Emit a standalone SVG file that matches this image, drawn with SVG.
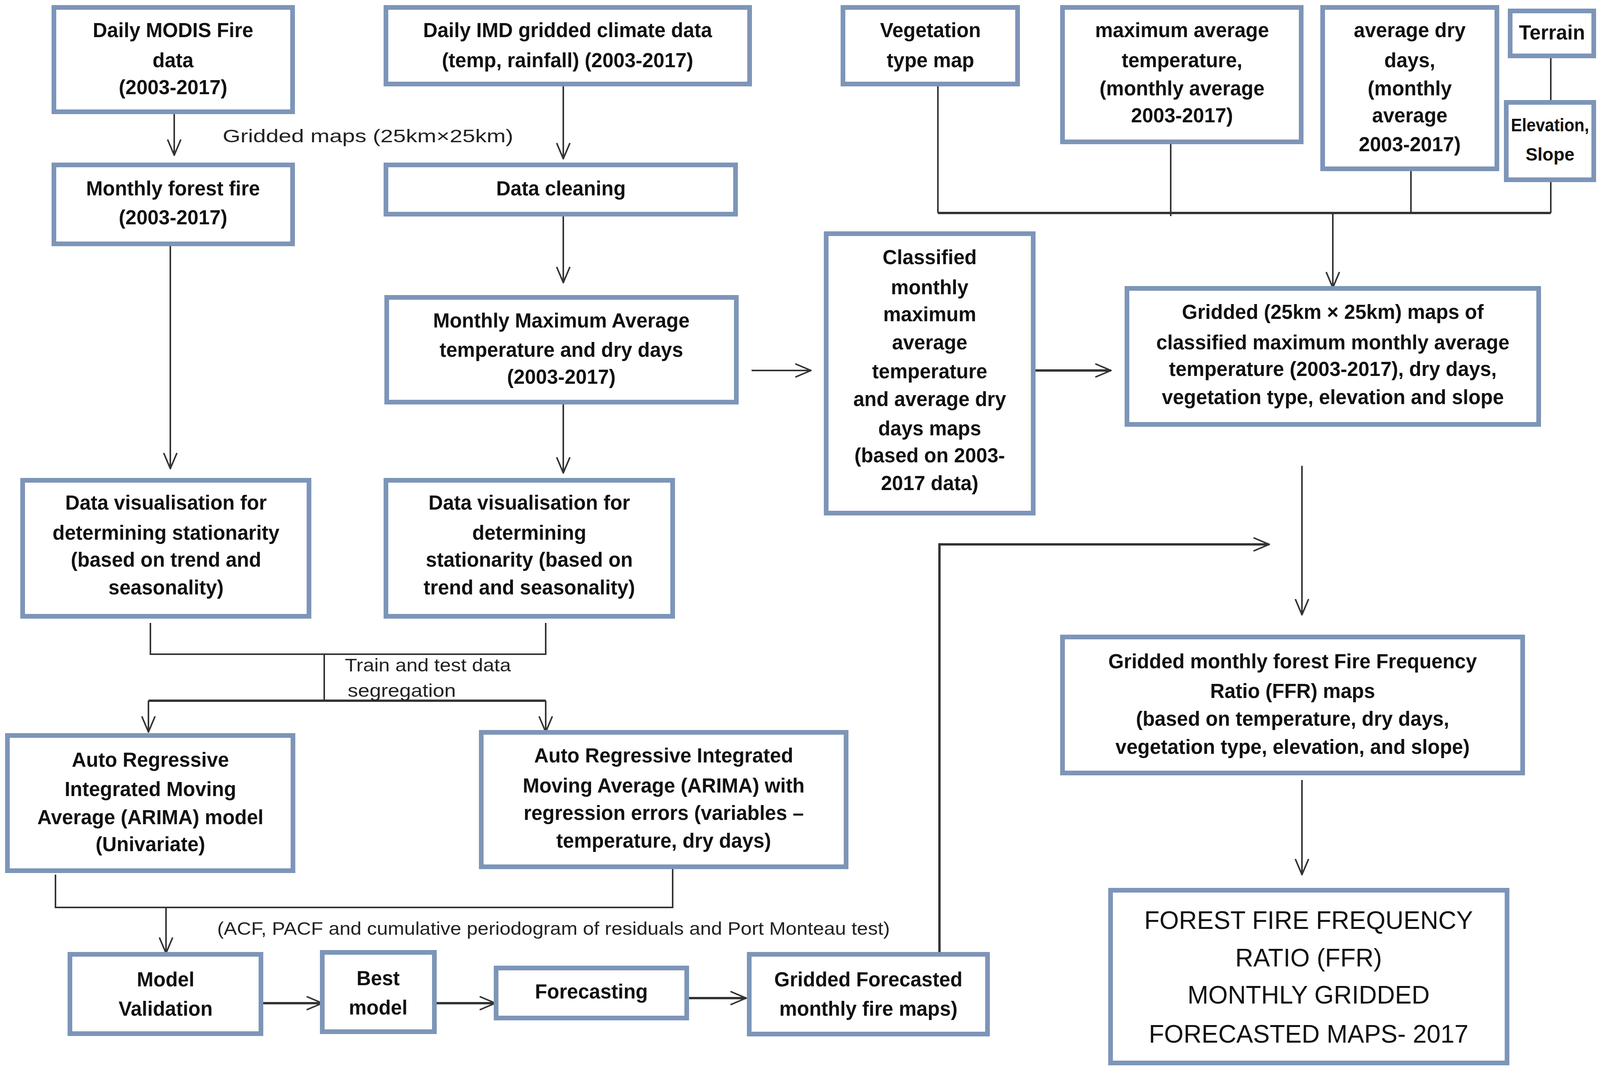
<svg xmlns="http://www.w3.org/2000/svg" width="4317" height="2738" viewBox="0 0 4317 2738">
<style>
.box{fill:#ffffff;stroke:#7d95b8;stroke-width:12}
.t{font-family:"Liberation Sans",Arial,sans-serif;font-weight:bold;font-size:51px;fill:#111;text-anchor:middle}
.ts{font-family:"Liberation Sans",Arial,sans-serif;font-weight:bold;font-size:46px;fill:#111;text-anchor:middle}
.big{font-family:"Liberation Sans",Arial,sans-serif;font-size:64px;fill:#111;text-anchor:middle}
.lbl{font-family:"Liberation Sans",Arial,sans-serif;font-size:46px;fill:#222}
.c{fill:none;stroke:#333;stroke-width:4}
.cb{fill:none;stroke:#333;stroke-width:6}
</style>
<defs>
<marker id="ah" viewBox="0 0 44 40" markerWidth="44" markerHeight="40" refX="42" refY="20" orient="auto" markerUnits="userSpaceOnUse">
<path d="M2,3 L42,20 L2,37" fill="none" stroke="#333" stroke-width="4"/>
</marker>
</defs>
<rect width="4317" height="2738" fill="#ffffff"/>

<g id="connectors">
<path class="c" d="M446,290 V397" marker-end="url(#ah)"/>
<path class="c" d="M1442,215 V406" marker-end="url(#ah)"/>
<path class="c" d="M1442,550 V723" marker-end="url(#ah)"/>
<path class="c" d="M436,626 V1199" marker-end="url(#ah)"/>
<path class="c" d="M1442,1030 V1210" marker-end="url(#ah)"/>
<path class="c" d="M1924,948 H2076" marker-end="url(#ah)"/>
<path class="cb" d="M2647,948 H2844" marker-end="url(#ah)"/>
<path class="c" d="M3970,143 V262"/>
<path class="c" d="M2401,215 V545"/>
<path class="c" d="M2997,363 V553"/>
<path class="c" d="M3612,432 V545"/>
<path class="c" d="M3970,460 V545"/>
<path class="cb" d="M2401,545 H3970"/>
<path class="c" d="M3412,545 V736" marker-end="url(#ah)"/>
<path class="c" d="M385,1594 V1674 H1397 V1594"/>
<path class="c" d="M830,1674 V1793"/>
<path class="cb" d="M380,1793 H1397"/>
<path class="c" d="M380,1793 V1873" marker-end="url(#ah)"/>
<path class="c" d="M1397,1793 V1873" marker-end="url(#ah)"/>
<path class="c" d="M142,2238 V2322 H1722 V2200"/>
<path class="c" d="M425,2322 V2439" marker-end="url(#ah)"/>
<path class="cb" d="M670,2567 H825" marker-end="url(#ah)"/>
<path class="cb" d="M1112,2567 H1268" marker-end="url(#ah)"/>
<path class="cb" d="M1760,2554 H1910" marker-end="url(#ah)"/>
<path class="cb" d="M2405,2442 V1393 H3249" marker-end="url(#ah)"/>
<path class="c" d="M3333,1192 V1573" marker-end="url(#ah)"/>
<path class="c" d="M3333,1996 V2238" marker-end="url(#ah)"/>
</g>

<g id="labels">
<text class="lbl" x="570" y="364" textLength="744" lengthAdjust="spacingAndGlyphs">Gridded maps (25km×25km)</text>
<text class="lbl" x="883" y="1718" textLength="425" lengthAdjust="spacingAndGlyphs">Train and test data</text>
<text class="lbl" x="890" y="1783" textLength="277" lengthAdjust="spacingAndGlyphs">segregation</text>
<text class="lbl" x="556" y="2392" textLength="1722" lengthAdjust="spacingAndGlyphs">(ACF, PACF and cumulative periodogram of residuals and Port Monteau test)</text>
</g>

<g id="n1"><rect class="box" x="138" y="19" width="611" height="267"/>
<text class="t" x="443" y="95">Daily MODIS Fire</text><text class="t" x="443" y="172">data</text><text class="t" x="443" y="241">(2003-2017)</text></g>

<g id="n2"><rect class="box" x="988" y="19" width="931" height="196"/>
<text class="t" x="1453" y="95">Daily IMD gridded climate data</text><text class="t" x="1453" y="172">(temp, rainfall) (2003-2017)</text></g>

<g id="n3"><rect class="box" x="2158" y="19" width="447" height="196"/>
<text class="t" x="2382" y="95">Vegetation</text><text class="t" x="2382" y="172">type map</text></g>

<g id="n4"><rect class="box" x="2720" y="19" width="611" height="344"/>
<text class="t" x="3026" y="95">maximum average</text><text class="t" x="3026" y="172">temperature,</text><text class="t" x="3026" y="244">(monthly average</text><text class="t" x="3026" y="313">2003-2017)</text></g>

<g id="n5"><rect class="box" x="3386" y="19" width="446" height="413"/>
<text class="t" x="3609" y="95">average dry</text><text class="t" x="3609" y="172">days,</text><text class="t" x="3609" y="244">(monthly</text><text class="t" x="3609" y="313">average</text><text class="t" x="3609" y="387">2003-2017)</text></g>

<g id="n6"><rect class="box" x="3866" y="28" width="214" height="115"/>
<text class="t" x="3973" y="101">Terrain</text></g>

<g id="n7"><rect class="box" x="3856" y="262" width="224" height="198"/>
<text class="ts" x="3968" y="336" textLength="200" lengthAdjust="spacingAndGlyphs">Elevation,</text><text class="ts" x="3968" y="411">Slope</text></g>

<g id="n8"><rect class="box" x="2885" y="738" width="1054" height="348"/>
<text class="t" x="3412" y="816">Gridded (25km × 25km) maps of</text><text class="t" x="3412" y="894">classified maximum monthly average</text><text class="t" x="3412" y="962">temperature (2003-2017), dry days,</text><text class="t" x="3412" y="1034">vegetation type, elevation and slope</text></g>

<g id="n9"><rect class="box" x="2115" y="598" width="530" height="715"/>
<text class="t" x="2380" y="676">Classified</text><text class="t" x="2380" y="753">monthly</text><text class="t" x="2380" y="822">maximum</text><text class="t" x="2380" y="894">average</text><text class="t" x="2380" y="968">temperature</text><text class="t" x="2380" y="1039">and average dry</text><text class="t" x="2380" y="1114">days maps</text><text class="t" x="2380" y="1183">(based on 2003-</text><text class="t" x="2380" y="1254">2017 data)</text></g>

<g id="n10"><rect class="box" x="138" y="422" width="611" height="202"/>
<text class="t" x="443" y="500">Monthly forest fire</text><text class="t" x="443" y="574">(2003-2017)</text></g>

<g id="n11"><rect class="box" x="988" y="422" width="895" height="126"/>
<text class="t" x="1436" y="500">Data cleaning</text></g>

<g id="n12"><rect class="box" x="990" y="761" width="895" height="268"/>
<text class="t" x="1437" y="838">Monthly Maximum Average</text><text class="t" x="1437" y="913">temperature and dry days</text><text class="t" x="1437" y="982">(2003-2017)</text></g>

<g id="n13"><rect class="box" x="58" y="1229" width="733" height="348"/>
<text class="t" x="425" y="1304">Data visualisation for</text><text class="t" x="425" y="1381">determining stationarity</text><text class="t" x="425" y="1450">(based on trend and</text><text class="t" x="425" y="1521">seasonality)</text></g>

<g id="n14"><rect class="box" x="988" y="1229" width="734" height="348"/>
<text class="t" x="1355" y="1304">Data visualisation for</text><text class="t" x="1355" y="1381">determining</text><text class="t" x="1355" y="1450">stationarity (based on</text><text class="t" x="1355" y="1521">trend and seasonality)</text></g>

<g id="n15"><rect class="box" x="19" y="1882" width="731" height="346"/>
<text class="t" x="385" y="1962">Auto Regressive</text><text class="t" x="385" y="2037">Integrated Moving</text><text class="t" x="385" y="2109">Average (ARIMA) model</text><text class="t" x="385" y="2178">(Univariate)</text></g>

<g id="n16"><rect class="box" x="1232" y="1874" width="934" height="344"/>
<text class="t" x="1699" y="1951">Auto Regressive Integrated</text><text class="t" x="1699" y="2028">Moving Average (ARIMA) with</text><text class="t" x="1699" y="2098">regression errors (variables –</text><text class="t" x="1699" y="2169">temperature, dry days)</text></g>

<g id="n17"><rect class="box" x="179" y="2442" width="489" height="203"/>
<text class="t" x="424" y="2524">Model</text><text class="t" x="424" y="2599">Validation</text></g>

<g id="n18"><rect class="box" x="825" y="2437" width="287" height="203"/>
<text class="t" x="968" y="2521">Best</text><text class="t" x="968" y="2596">model</text></g>

<g id="n19"><rect class="box" x="1270" y="2477" width="488" height="128"/>
<text class="t" x="1514" y="2555">Forecasting</text></g>

<g id="n20"><rect class="box" x="1918" y="2442" width="610" height="204"/>
<text class="t" x="2223" y="2524">Gridded Forecasted</text><text class="t" x="2223" y="2599">monthly fire maps)</text></g>

<g id="n21"><rect class="box" x="2720" y="1630" width="1178" height="348"/>
<text class="t" x="3309" y="1710">Gridded monthly forest Fire Frequency</text><text class="t" x="3309" y="1786">Ratio (FFR) maps</text><text class="t" x="3309" y="1857">(based on temperature, dry days,</text><text class="t" x="3309" y="1929">vegetation type, elevation, and slope)</text></g>

<g id="n22"><rect class="box" x="2843" y="2278" width="1015" height="442"/>
<text class="big" x="3350" y="2377">FOREST FIRE FREQUENCY</text><text class="big" x="3350" y="2473">RATIO (FFR)</text><text class="big" x="3350" y="2568">MONTHLY GRIDDED</text><text class="big" x="3350" y="2668">FORECASTED MAPS- 2017</text></g>
</svg>
